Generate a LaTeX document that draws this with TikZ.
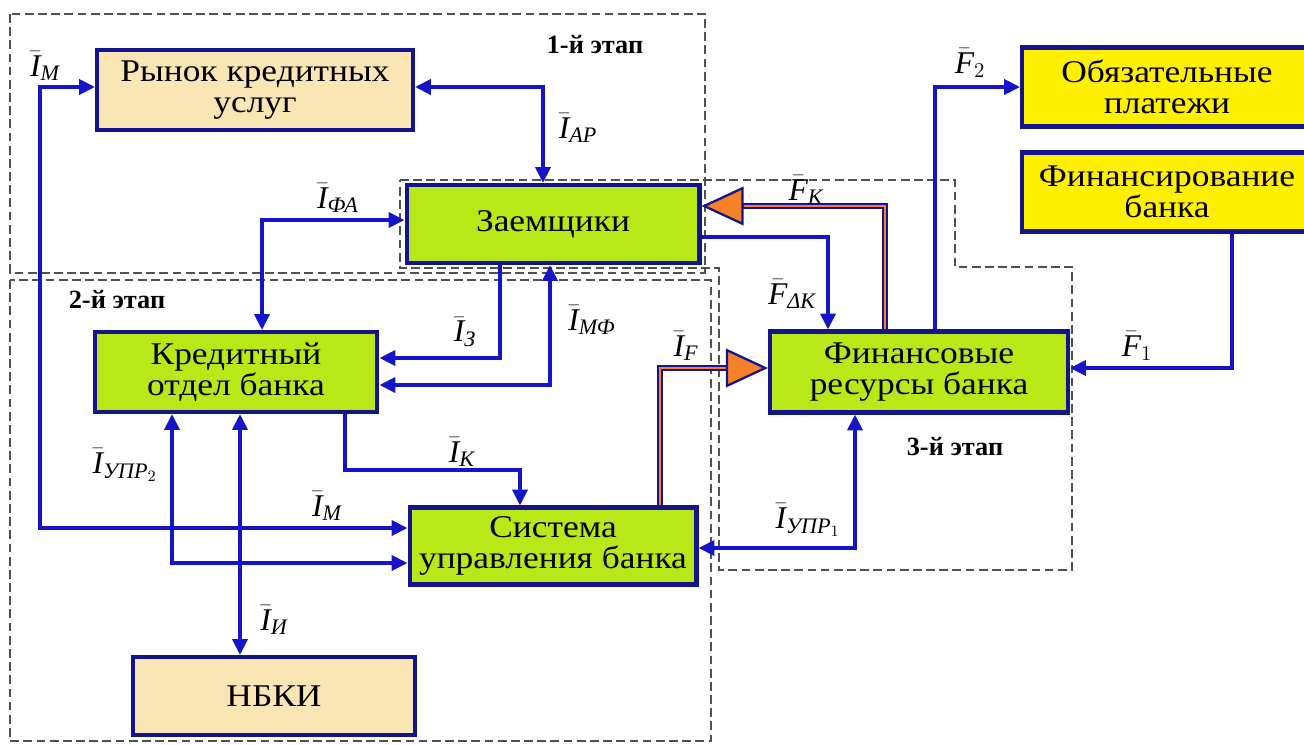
\documentclass[tikz,border=0pt]{standalone}
\usepackage{amsmath}
\usepackage{fontspec}
\setmainfont{Liberation Serif}
\newfontfamily\boxfont[FakeStretch=1.12]{Liberation Serif}
\usetikzlibrary{arrows.meta}

\definecolor{lineblue}{RGB}{20,20,200}
\definecolor{boxblue}{RGB}{20,20,140}
\definecolor{beige}{RGB}{250,230,180}
\definecolor{limegreen}{RGB}{185,232,25}
\definecolor{signyellow}{RGB}{255,240,0}
\definecolor{flowor}{RGB}{245,130,40}
\definecolor{stagegray}{RGB}{80,80,80}

\newcommand{\flowlbl}[2]{$\bar{\textit{#1}}_{\text{\itshape #2}}$}

\tikzset{
  unit/.style={draw=boxblue, line width=2.3pt, align=center, inner sep=2pt,
    font=\boxfont\fontsize{18}{17.5}\selectfont},
  market/.style={unit, fill=beige},
  actor/.style={unit, fill=limegreen},
  outside/.style={unit, fill=signyellow},
  flow/.style={draw=lineblue, line width=2.1pt},
  double flow/.style={draw=boxblue, line width=1.2pt, double=flowor, double distance=1.3pt},
  big tip/.style={draw=boxblue, line width=1.3pt, -{Triangle[length=24pt,width=22pt,fill=flowor]}},
  stageline/.style={draw=stagegray, line width=1.2pt, dash pattern=on 5pt off 2.5pt},
  stage/.style={font=\fontsize{15}{17}\selectfont\bfseries},
  tag/.style={font=\fontsize{18}{20}\selectfont, inner sep=1pt}
}

\begin{document}
\begin{tikzpicture}[x=0.02cm, y=-0.02cm, >={Triangle[length=9pt,width=8.5pt]}]
  \useasboundingbox (0,0) rectangle (1304,744);
  \clip (0,0) rectangle (1304,744);

  % stages
  \draw[stageline] (10,14) rectangle (705,273);
  \draw[stageline] (10,280) rectangle (711,741);
  \draw[stageline] (400,180) -- (955,180) -- (955,267) -- (1072,267) -- (1072,570)
    -- (719,570) -- (719,268) -- (400,268) -- cycle;
  \node[stage] at (595,45) {1-й этап};
  \node[stage] at (117,300) {2-й этап};
  \node[stage] at (955,447) {3-й этап};

  % blocks
  \node[market, minimum width=6.32cm, minimum height=1.6cm] (rynok) at (255,90) {Рынок кредитных\\услуг};
  \node[actor, minimum width=5.86cm, minimum height=1.56cm] (zaem) at (553,224) {Заемщики};
  \node[actor, minimum width=5.66cm, minimum height=1.6cm] (kred) at (236,372) {Кредитный\\отдел банка};
  \node[actor, minimum width=5.74cm, minimum height=1.54cm] (sist) at (553,546) {Система\\управления банка};
  \node[market, minimum width=5.64cm, minimum height=1.56cm] (nbki) at (274,696) {НБКИ};
  \node[actor, minimum width=5.96cm, minimum height=1.62cm] (fin) at (919,372) {Финансовые\\ресурсы банка};
  \node[outside, minimum width=5.8cm, minimum height=1.58cm] (obyaz) at (1167,87) {Обязательные\\платежи};
  \node[outside, minimum width=5.8cm, minimum height=1.58cm] (finans) at (1167,192) {Финансирование\\банка};

  % information flows
  \draw[flow,<->] (rynok.west |- 0,87) -| (40,528) -- (sist.west |- 0,528);
  \draw[flow,<->] (rynok.east |- 0,87) -| (zaem.north -| 543,0);
  \draw[flow,<->] (zaem.west |- 0,220) -| (kred.north -| 262,0);
  \draw[flow,->] (zaem.south -| 500,0) |- (kred.east |- 0,358);
  \draw[flow,<->] (kred.east |- 0,385) -| (zaem.south -| 550,0);
  \draw[flow,->] (kred.south -| 345,0) |- (520,470) -- (sist.north -| 520,0);
  \draw[flow,<->] (kred.south -| 172,0) |- (sist.west |- 0,563);
  \draw[flow,<->] (kred.south -| 240,0) -- (nbki.north -| 240,0);
  \draw[flow,<->] (sist.east |- 0,548) -| (fin.south -| 855,0);

  % financial flows
  \draw[flow,->] (zaem.east |- 0,237) -| (fin.north -| 828,0);
  \draw[flow,->] (fin.north -| 935,0) |- (obyaz.west |- 0,87);
  \draw[flow,->] (finans.south -| 1232,0) |- (fin.east |- 0,368);
  \draw[double flow] (sist.north -| 660,0) |- (727,368);
  \draw[big tip] (727,368) -- (fin.west |- 0,368);
  \draw[double flow] (fin.north -| 885,0) |- (743,206);
  \draw[big tip] (743,206) -- (zaem.east |- 0,206);

  % labels
  \node[tag] at (45,66) {\flowlbl{I}{М}};
  \node[tag] at (578,128) {\flowlbl{I}{АР}};
  \node[tag] at (338,198) {\flowlbl{I}{ФА}};
  \node[tag] at (465,332) {\flowlbl{I}{З}};
  \node[tag] at (592,320) {\flowlbl{I}{МФ}};
  \node[tag] at (462,452) {\flowlbl{I}{К}};
  \node[tag] at (327,506) {\flowlbl{I}{М}};
  \node[tag] at (125,465) {\flowlbl{I}{УПР$_2$}};
  \node[tag] at (274,620) {\flowlbl{I}{И}};
  \node[tag] at (686,346) {\flowlbl{I}{F}};
  \node[tag] at (808,520) {\flowlbl{I}{УПР$_1$}};
  \node[tag] at (806,190) {\flowlbl{F}{К}};
  \node[tag] at (792,294) {\flowlbl{F}{ΔК}};
  \node[tag] at (970,63) {$\bar{\textit{F}}_{2}$};
  \node[tag] at (1137,346) {$\bar{\textit{F}}_{1}$};
\end{tikzpicture}
\end{document}
